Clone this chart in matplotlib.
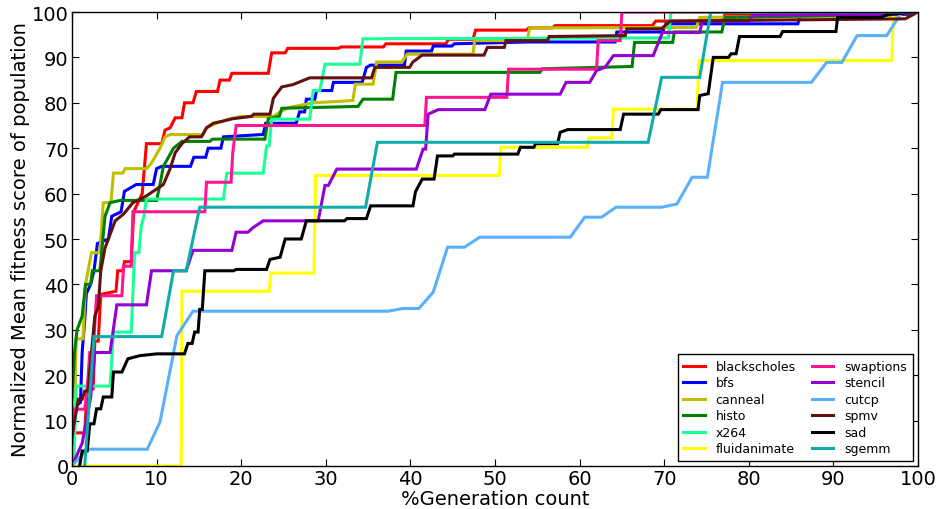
import matplotlib
matplotlib.use("Agg")
import matplotlib.pyplot as plt

# ---------------- data ----------------
series_names = ["blackscholes", "bfs", "canneal", "histo", "x264", "fluidanimate",
                "swaptions", "stencil", "cutcp", "spmv", "sad", "sgemm"]

blackscholes_pts = [(0, 5), (0.2, 7.3), (1.5, 7.3), (1.8, 17), (2.5, 17), (2.7, 27.5), (3.1, 27.5),
                    (3.4, 37.8), (5.2, 38.5), (5.4, 43), (6.0, 43), (6.2, 45), (7.0, 45), (7.3, 56),
                    (7.8, 58), (8.3, 60), (8.8, 71), (10.6, 71), (11.0, 74), (11.6, 74.5), (12.2, 76.7),
                    (13.0, 76.7), (13.3, 80), (14.3, 80), (14.7, 82.5), (17.2, 82.5), (17.5, 85),
                    (18.6, 85), (18.9, 86.5), (23.2, 86.5), (23.6, 91), (25.2, 91), (25.5, 92),
                    (31.5, 92), (31.8, 92.3), (36.8, 92.3), (37.1, 93), (44.2, 93), (44.5, 94),
                    (47.4, 94), (47.7, 96), (53.7, 96), (54.0, 96.5), (56.8, 96.5), (57.1, 97),
                    (68.6, 97), (69.0, 98), (76.8, 98), (77.2, 99.5), (99, 99.5), (100, 100)]

bfs_pts = [(0.3, 13), (1.0, 14), (1.2, 25), (1.5, 32), (1.7, 38), (2.2, 40), (2.6, 43), (3.0, 49),
           (4.3, 50), (4.7, 55), (5.8, 56), (6.2, 60.5), (7.6, 62), (9.6, 62), (10.0, 65.5),
           (10.6, 66), (14.0, 66), (14.4, 68), (15.8, 68), (16.1, 70), (17.6, 70), (17.9, 72.5),
           (22.4, 73), (22.6, 73), (22.9, 75.5), (26.5, 75.5), (26.9, 78), (27.5, 78), (27.7, 80.8),
           (28.7, 80.8), (28.9, 82.7), (30.7, 82.7), (30.9, 84.5), (34.3, 84.5), (34.8, 87.8),
           (35.3, 88.3), (39.3, 88.3), (39.5, 91.4), (42.5, 91.4), (42.7, 92.5), (44.9, 92.5),
           (45.2, 93), (54.0, 93.4), (64.2, 93.4), (64.4, 95.6), (69.8, 95.6), (70.2, 97.4),
           (85.8, 97.4), (86.1, 99.3), (99, 99.5), (100, 100)]

canneal_pts = [(0.15, 0), (0.5, 28), (1.3, 28), (1.6, 40), (1.9, 43), (2.3, 47), (3.3, 47), (3.7, 58),
               (4.6, 58), (4.9, 64.5), (6.0, 64.5), (6.3, 65.5), (8.8, 65.5), (9.3, 66.5), (9.8, 68),
               (10.4, 70), (11.0, 72.5), (11.6, 73), (15.5, 73), (15.9, 74.5), (17.1, 75.5),
               (18.7, 76.5), (20.0, 77), (23.8, 77), (24.6, 78), (25.7, 79), (28.5, 80), (33.2, 80.5),
               (33.5, 84.1), (35.6, 84.1), (36.0, 89), (39.0, 89), (39.6, 90.7), (47.4, 90.7),
               (47.6, 93.7), (53.8, 93.7), (54.1, 96.5), (73.8, 96.6), (74.2, 98.8), (97, 99.2),
               (100, 100)]

histo_pts = [(0, 15), (0.3, 25), (0.6, 30), (1.2, 33), (1.6, 40), (2.2, 40), (2.4, 43), (3.3, 43),
             (3.9, 55), (4.5, 58), (5.7, 58.5), (10.0, 58.5), (10.4, 62), (10.8, 66), (11.4, 68),
             (12.0, 70), (13.0, 71.5), (16.3, 71.5), (16.6, 72), (22.8, 72), (23.2, 76.5),
             (24.5, 77), (24.8, 78.8), (33.8, 79.2), (34.4, 80.8), (37.9, 80.8), (38.3, 86.7),
             (55.3, 86.7), (55.6, 87.5), (66.2, 88), (66.5, 93.3), (71.0, 93.3), (71.2, 95.6),
             (76.8, 95.6), (77.2, 98.8), (99, 99.5), (100, 100)]

x264_pts = [(0.2, 0), (0.5, 17.6), (4.5, 17.6), (4.9, 29.5), (7.0, 29.5), (7.4, 47), (7.9, 47),
            (8.2, 53), (8.5, 55), (8.8, 58.8), (17.9, 58.8), (18.3, 64.5), (22.6, 64.5), (23.0, 70.5),
            (23.3, 70.5), (23.6, 76.4), (28.1, 76.4), (28.5, 82.7), (29.3, 82.7), (29.9, 88.5),
            (34.0, 88.5), (34.4, 94.1), (70.5, 94.3), (70.8, 100), (100, 100)]

fluidanimate_pts = [(0, 0), (12.9, 0), (13.0, 38.5), (23.3, 38.5), (23.5, 42.5), (28.6, 42.5),
                    (28.8, 64), (50.5, 64), (50.7, 70.2), (60.9, 70.2), (61.1, 72.3), (63.8, 72.3),
                    (64.0, 78.6), (73.9, 78.6), (74.1, 89.3), (96.9, 89.3), (97.1, 100), (100, 100)]

swaptions_pts = [(0, 5), (0.3, 12.5), (1.5, 12.5), (1.8, 17), (2.1, 25), (2.5, 25), (2.9, 37.5),
                 (5.9, 37.5), (6.1, 44), (7.0, 44), (7.2, 56), (15.7, 56), (15.9, 62.5), (18.8, 62.5),
                 (19.0, 69), (19.4, 75), (41.7, 75), (41.9, 81.2), (51.4, 81.2), (51.6, 87.4),
                 (62.0, 87.4), (62.2, 93.7), (64.8, 93.7), (65.0, 100), (100, 100)]

stencil_pts = [(0, 0), (1.2, 5), (2.2, 15), (2.7, 25), (4.5, 25), (5.3, 35.5), (8.8, 35.5),
               (9.4, 43), (13.5, 43), (14.3, 47.5), (18.9, 47.5), (19.4, 51.5), (20.8, 51.5),
               (21.4, 52.5), (22.6, 54), (29.1, 54), (29.9, 61.8), (30.3, 61.8), (31.3, 65.4),
               (40.7, 65.4), (41.5, 69.8), (41.8, 69.8), (42.1, 77.5), (43.3, 78.5), (48.8, 78.5),
               (49.5, 81.9), (57.7, 81.9), (58.4, 84.5), (61.2, 84.5), (62.0, 87.1), (63.0, 87.8),
               (64.0, 90.4), (68.7, 90.4), (69.8, 95.5), (74.2, 95.5), (74.5, 98), (80.0, 98),
               (80.5, 99.3), (99, 99.5), (100, 100)]

cutcp_pts = [(0, 0), (1.8, 3.7), (8.9, 3.7), (10.4, 9.7), (12.4, 28.7), (14.3, 34.1), (37.4, 34.1),
             (39.1, 34.7), (41.0, 34.7), (42.7, 38.3), (44.4, 48.2), (46.4, 48.2), (48.2, 50.4),
             (58.9, 50.4), (60.6, 54.8), (62.6, 54.8), (64.3, 57), (69.7, 57), (71.5, 57.7),
             (73.3, 63.6), (75.1, 63.6), (76.9, 84.5), (87.4, 84.5), (89.2, 88.9), (91.0, 88.9),
             (92.8, 94.8), (96.3, 94.8), (98.1, 100), (100, 100)]

spmv_pts = [(0, 6.6), (0.75, 14.7), (1.2, 14.7), (1.5, 16.5), (1.9, 16.5), (2.3, 25), (2.7, 33),
            (3.1, 35), (3.4, 43), (3.9, 48), (4.5, 51), (5.1, 54), (6.1, 55.5), (7.2, 58), (8.8, 59.5),
            (10.0, 61), (10.8, 62), (11.6, 65.5), (12.2, 69), (13.0, 71), (13.9, 72.5), (15.3, 72.5),
            (15.9, 74.5), (16.7, 75.5), (17.9, 76), (19.0, 76.5), (21.2, 77), (21.5, 77.5),
            (23.4, 77.5), (23.8, 81), (24.8, 83.5), (26.1, 84), (28.1, 85.5), (35.4, 85.5),
            (35.8, 87.8), (39.9, 87.8), (40.3, 89), (41.4, 90.5), (48.7, 90.5), (49.1, 92.2),
            (51.1, 92.2), (51.3, 93.7), (56.2, 93.7), (56.4, 94.6), (65.4, 94.8), (65.6, 96.3),
            (69.7, 96.3), (70.7, 98), (98.5, 98.5), (100, 100)]

sad_pts = [(0.9, 0), (1.2, 3.3), (1.8, 3.3), (2.1, 9.3), (2.6, 9.3), (2.9, 12.6), (3.4, 12.6),
           (3.7, 15.2), (4.7, 15.2), (4.9, 20.7), (5.9, 20.7), (6.6, 23.6), (8.0, 24.3), (10.0, 24.7),
           (13.3, 24.7), (13.7, 27), (14.2, 27), (14.5, 29.5), (14.9, 29.5), (15.1, 34.5),
           (15.4, 34.5), (15.7, 43), (19.1, 43), (19.4, 43.3), (23.0, 43.3), (23.4, 45.5),
           (24.6, 46), (25.2, 50), (27.1, 50), (27.7, 54), (32.2, 54), (32.5, 54.5), (34.8, 54.5),
           (35.3, 57.3), (40.3, 57.3), (40.6, 60.4), (41.4, 63.2), (42.8, 63.2), (43.2, 68.3),
           (45.0, 68.3), (45.2, 68.7), (52.7, 68.7), (53.0, 70.2), (54.6, 70.2), (54.8, 71),
           (57.4, 71), (57.7, 73.5), (58.6, 74.1), (64.8, 74.1), (65.2, 77.5), (69.3, 77.5),
           (69.6, 78.5), (74.0, 78.5), (74.2, 81.6), (75.2, 82), (75.8, 90), (77.6, 90),
           (77.9, 90.8), (78.5, 90.8), (78.9, 94.6), (83.7, 94.6), (84.0, 95.7), (90.3, 95.7),
           (90.5, 98.8), (95.6, 98.8), (96.5, 99.5), (100, 100)]

sgemm_pts = [(1.5, 0), (2.6, 28.5), (10.6, 28.5), (12.0, 43), (13.5, 43), (15.1, 57), (34.7, 57),
             (36.1, 71.3), (68.1, 71.3), (69.7, 85.6), (74.2, 85.6), (75.5, 100), (100, 100)]

x_ticks = [0, 10, 20, 30, 40, 50, 60, 70, 80, 90, 100]
y_ticks = [0, 10, 20, 30, 40, 50, 60, 70, 80, 90, 100]

# ---------------- styling ----------------
colors = {
    "blackscholes": "#ff0000", "bfs": "#0000ff", "canneal": "#bfbf00", "histo": "#008000",
    "x264": "#1aff96", "fluidanimate": "#ffff00", "swaptions": "#ff1493", "stencil": "#9400d3",
    "cutcp": "#5aafff", "spmv": "#621010", "sad": "#000000", "sgemm": "#10acac",
}
all_pts = [blackscholes_pts, bfs_pts, canneal_pts, histo_pts, x264_pts, fluidanimate_pts,
           swaptions_pts, stencil_pts, cutcp_pts, spmv_pts, sad_pts, sgemm_pts]

plt.rcParams["font.family"] = ["DejaVu Sans"]
fig = plt.figure(figsize=(9.43, 5.10), dpi=100)
ax = fig.add_axes([72 / 943, 43 / 510, 846 / 943, 454 / 510])

for name, pts in zip(series_names, all_pts):
    xs = [p[0] for p in pts]
    ys = [p[1] for p in pts]
    ax.plot(xs, ys, color=colors[name], lw=2.2, label=name, solid_joinstyle="miter")

ax.set_xlim(0, 100)
ax.set_ylim(0, 100)
ax.set_xticks(x_ticks)
ax.set_yticks(y_ticks)
ax.tick_params(direction="in", top=True, right=True, length=5, width=0.8, labelsize=14, pad=2.5)
for sp in ax.spines.values():
    sp.set_linewidth(1.0)
ax.set_xlabel("%Generation count", fontsize=14, labelpad=0.5)
ax.set_ylabel("Normalized Mean fitness score of population", fontsize=14, labelpad=1)

leg = ax.legend(loc="lower right", ncol=2, fontsize=9, fancybox=False, framealpha=1,
                edgecolor="black", handlelength=1.7, handletextpad=0.9, columnspacing=1.3,
                labelspacing=0.28, borderpad=0.45, borderaxespad=0.4)
leg.get_frame().set_linewidth(1.0)

fig.savefig("out.png", dpi=100, facecolor="white")
